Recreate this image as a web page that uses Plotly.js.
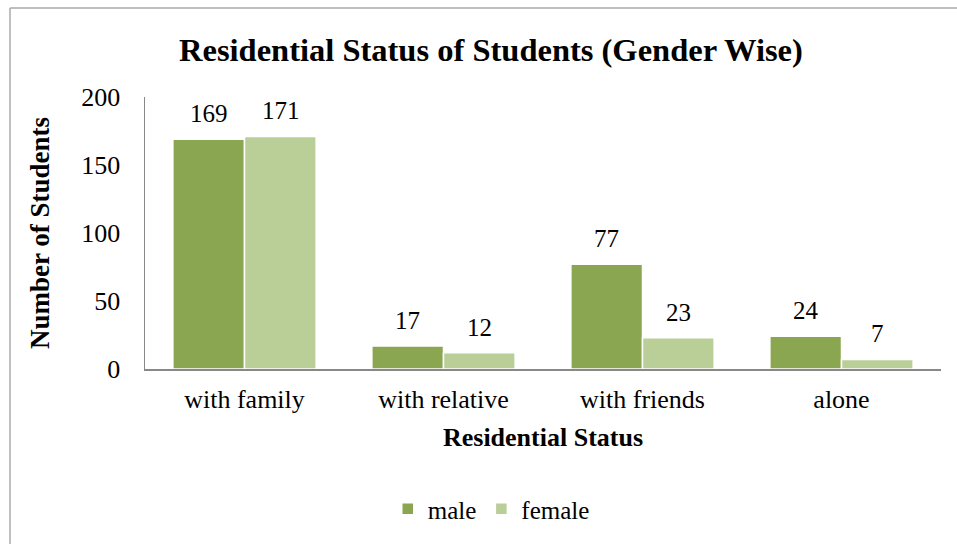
<!DOCTYPE html>
<html><head><meta charset="utf-8">
<script src="https://cdn.plot.ly/plotly-3.0.1.min.js"></script>
<style>html,body{margin:0;padding:0;background:#fff;}#chart{width:957px;height:544px;}</style>
</head><body><div id="chart"></div>
<script>
const categories = ["with family", "with relative", "with friends", "alone"];
const male = [169, 17, 77, 24];
const female = [171, 12, 23, 7];
const seriesNames = ["male", "female"];
const yTicks = [0, 50, 100, 150, 200];

const colors = ["#8BA650", "#BACF98"];
const fontFam = "Liberation Serif, Times New Roman, serif";

const traces = [male, female].map((vals, i) => ({
  type: "bar", name: seriesNames[i], x: categories, y: vals,
  marker: {color: colors[i], line: {color: "#ffffff", width: 1.5}},
  hoverinfo: "skip"
}));

const annotations = [];
[male, female].forEach((vals, i) => {
  vals.forEach((v, j) => {
    annotations.push({x: categories[j], y: v, xref: "x", yref: "y", text: String(v),
      showarrow: false, xshift: i === 0 ? -36 : 36, yanchor: "bottom", yshift: 10,
      font: {family: fontFam, size: 25, color: "#000"}});
  });
});

const layout = {
  width: 957, height: 544,
  margin: {l: 145, r: 16, t: 97, b: 175},
  paper_bgcolor: "#fff", plot_bgcolor: "#fff",
  font: {family: fontFam, color: "#000"},
  title: {text: "<b>Residential Status of Students (Gender Wise)</b>", xref: "container", x: 0.513, y: 0.909, yanchor: "middle", xanchor: "center",
    font: {family: fontFam, size: 32.5, color: "#000"}},
  barmode: "group", bargap: 0.28, bargroupgap: 0,
  xaxis: {type: "category", showline: true, linecolor: "#888", linewidth: 1.5, ticks: "", showgrid: false,
    tickfont: {size: 26}, ticklabelstandoff: 6,
    title: {text: "<b>Residential Status</b>", font: {size: 26}, standoff: 15}},
  yaxis: {range: [0, 200], tickvals: yTicks, showline: true, linecolor: "#888", linewidth: 1.5, ticks: "", showgrid: false, zeroline: false,
    tickfont: {size: 26}, ticklabelstandoff: 18,
    title: {text: "<b>Number of Students</b>", font: {size: 27}, standoff: 24}},
  showlegend: true,
  legend: {orientation: "h", x: 0.435, xanchor: "center", y: -0.515, yanchor: "middle", font: {size: 25}, itemwidth: 30, tracegroupgap: 0},
  annotations: annotations,
  shapes: [
    {type: "line", xref: "paper", yref: "paper", x0: -0.1696, x1: -0.1696, y0: 1.327, y1: -0.66, line: {color: "#aaa", width: 1.5}},
    {type: "line", xref: "paper", yref: "paper", x0: -0.1696, x1: 1.03, y0: 1.327, y1: 1.327, line: {color: "#aaa", width: 1.5}}
  ]
};

Plotly.newPlot("chart", traces, layout, {displayModeBar: false, staticPlot: true});
</script></body></html>
